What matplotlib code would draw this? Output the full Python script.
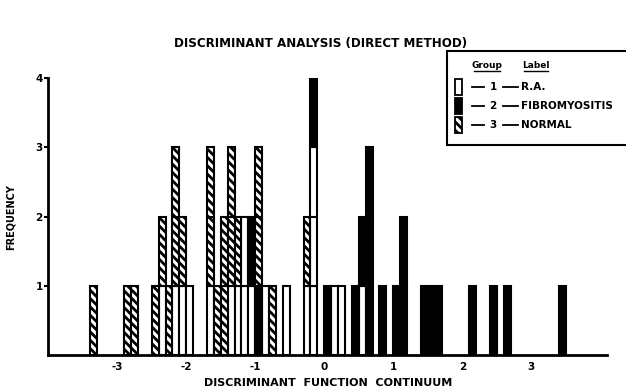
import matplotlib.pyplot as plt
from matplotlib.patches import Rectangle
from matplotlib.lines import Line2D
import numpy as np

plt.rcParams['hatch.linewidth'] = 2.0
plt.rcParams['font.family'] = ['DejaVu Sans']
plt.rcParams['font.weight'] = 'bold'

# discriminant score of each subject, read as the left edge of its 0.1 bin
ra_scores = [-2.4, -2.2, -2.1, -2.0, -1.7, -1.4, -1.3, -1.2, -1.2, -1.1,
             -0.9, -0.6, -0.3, -0.2, -0.2, -0.2, 0.1, 0.2, 0.5]
fib_scores = [-1.1, -1.0, -0.2, 0.0, 0.4, 0.5, 0.6, 0.6, 0.6, 0.8,
              1.0, 1.1, 1.1, 1.4, 1.5, 1.6, 2.1, 2.4, 2.6, 3.4]
normal_scores = [-3.4, -2.9, -2.8, -2.5, -2.4, -2.3, -2.2, -2.2, -2.1, -1.7,
                 -1.7, -1.6, -1.5, -1.5, -1.4, -1.4, -1.3, -1.0, -1.0, -0.8, -0.3]

group_ids = ['1', '2', '3']
group_labels = ['R.A.', 'FIBROMYOSITIS', 'NORMAL']
xticks = [-3, -2, -1, 0, 1, 2, 3]
yticks = [1, 2, 3, 4]

styles = [dict(facecolor='white', hatch=None),
          dict(facecolor='black', hatch=None),
          dict(facecolor='white', hatch='\\\\\\\\')]

fig = plt.figure(figsize=(6.26, 3.92), dpi=100)
ax = fig.add_axes([0.077, 0.094, 0.893, 0.707])

# stack one box per subject, groups in order 1, 2, 3
heights = {}
for scores, st in zip([ra_scores, fib_scores, normal_scores], styles):
    xs, bottoms = [], []
    for v in scores:
        key = int(round(v * 10))
        b = heights.get(key, 0)
        xs.append(v)
        bottoms.append(b)
        heights[key] = b + 1
    ax.bar(xs, 1, width=0.1, bottom=bottoms, align='edge',
           facecolor=st['facecolor'], hatch=st['hatch'],
           edgecolor='black', linewidth=1.5)

ax.set_xlim(-4.0, 4.1)
ax.set_ylim(0, 4)
ax.spines['top'].set_visible(False)
ax.spines['right'].set_visible(False)
ax.spines['left'].set_linewidth(2)
ax.spines['bottom'].set_linewidth(2)

ax.set_xticks(xticks)
ax.set_xticklabels(['-3', '-2', '-1', '0', '1', '2', '3'], fontsize=7.5, fontweight='bold')
ax.tick_params(axis='x', length=0, pad=5)
ax.set_yticks(yticks)
ax.set_yticklabels([str(t) for t in yticks], fontsize=7.5, fontweight='bold')
ax.tick_params(axis='y', length=3, width=1.5, pad=1)

ax.set_xlabel('DISCRIMINANT  FUNCTION  CONTINUUM', fontsize=8, fontweight='bold', labelpad=4)
ax.set_ylabel('FREQUENCY', fontsize=7, fontweight='bold', labelpad=14)
fig.text(0.512, 0.889, 'DISCRIMINANT ANALYSIS (DIRECT METHOD)', ha='center', va='center',
         fontsize=8.6, fontweight='bold')

# hand drawn legend box
W, H = 626.0, 392.0
def fx(px): return px / W
def fy(py): return 1 - py / H

fig.add_artist(Rectangle((fx(447), fy(145)), fx(640) - fx(447), fy(51) - fy(145),
                         transform=fig.transFigure, facecolor='white',
                         edgecolor='black', linewidth=1.5))
fig.text(fx(487), fy(65), 'Group', fontsize=6.5, fontweight='bold', ha='center', va='center')
fig.text(fx(536), fy(65), 'Label', fontsize=6.5, fontweight='bold', ha='center', va='center')
fig.add_artist(Line2D([fx(474), fx(500)], [fy(71), fy(71)], color='black', lw=1))
fig.add_artist(Line2D([fx(524), fx(548)], [fy(71), fy(71)], color='black', lw=1))

row_y = [87, 106, 125]
for gid, lab, st, py in zip(group_ids, group_labels, styles, row_y):
    fig.add_artist(Rectangle((fx(455), fy(py + 8)), fx(462) - fx(455), fy(py - 8) - fy(py + 8),
                             transform=fig.transFigure, facecolor=st['facecolor'],
                             hatch=st['hatch'], edgecolor='black', linewidth=1.3))
    fig.add_artist(Line2D([fx(472), fx(484)], [fy(py), fy(py)], color='black', lw=1.3))
    fig.text(fx(493), fy(py), gid, fontsize=7.5, fontweight='bold', ha='center', va='center')
    fig.add_artist(Line2D([fx(503), fx(518)], [fy(py), fy(py)], color='black', lw=1.3))
    fig.text(fx(521), fy(py), lab, fontsize=7.5, fontweight='bold', va='center')

fig.savefig('out.png', dpi=100)
